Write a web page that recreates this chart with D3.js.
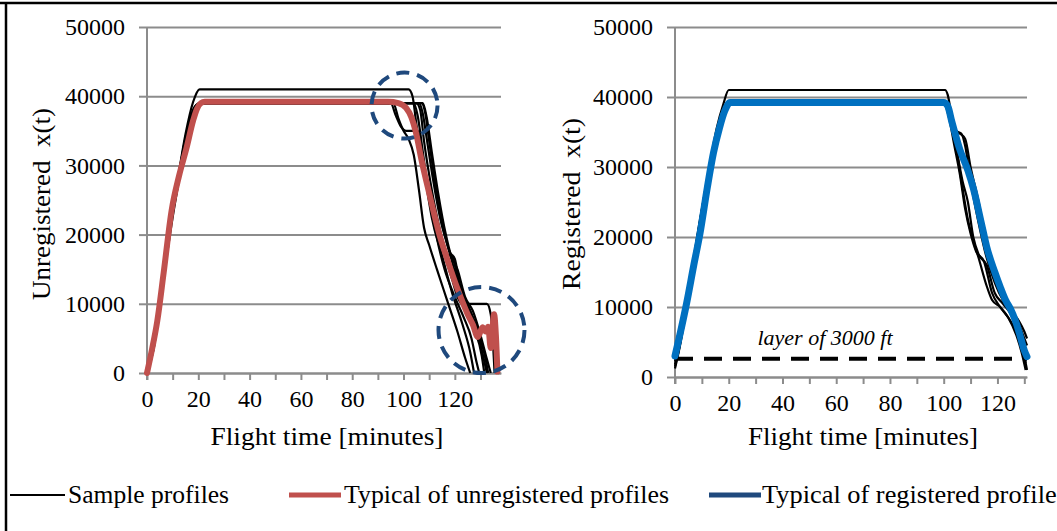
<!DOCTYPE html>
<html>
<head>
<meta charset="utf-8">
<script src="https://cdn.jsdelivr.net/npm/d3@7"></script>
<style>
  html, body { margin: 0; padding: 0; background: #fff; }
  svg { display: block; }
  svg text { font-family: 'Liberation Serif' !important; }
</style>
</head>
<body>
<div id="chart"></div>
<script>
// ---- data ----
const yTicks = [0, 10000, 20000, 30000, 40000, 50000];
const xTicks = [0, 10, 20, 30, 40, 50, 60, 70, 80, 90, 100, 110, 120, 130];
const xLabelStep = 20;

// unregistered sample profiles: [minutes, altitude]
const unregSamples = [
  [[0,0],[2,3500],[5,11000],[9,21500],[12,28000],[15,34500],[18,39200],[20.5,41000],[102,41000],[103.5,40000],[105,36000],[107,31500],[110,26000],[113,21000],[116,17000],[119,13500],[121,11000],[123,10000],[132.5,10000],[134,8500],[135.5,0]],
  [[0,0],[2,3000],[5,10500],[9,21000],[12,27500],[15,33500],[18,37500],[20,38800],[22,39000],[105,39000],[106.5,38000],[108,33500],[111,26500],[114,21000],[117,17200],[119,16800],[121,14000],[124,10500],[127,8000],[130,5000],[132,2000],[133,0]],
  [[0,0],[2.5,3500],[6,13000],[10,23000],[13,29000],[16,35000],[19,38300],[21,39000],[95,39000],[97,37200],[99,35600],[101,35000],[105.5,35000],[107,32500],[109,27000],[111,22500],[115,17000],[119,11500],[123,7000],[126,3000],[127.5,0]],
  [[0,0],[2,3200],[5.5,12000],[9.5,22000],[13,29500],[16,34800],[19,38500],[21,39000],[96,39000],[98,36800],[100,35000],[102,33800],[104,31500],[106,26500],[108,21000],[110,18500],[113,15000],[117,10500],[121,6000],[124,2200],[126,0]],
  [[0,0],[2,3200],[5,11000],[9,21200],[12,27800],[15,34000],[18,38000],[20.5,39000],[106,39000],[107.5,37500],[109,34000],[111.5,28000],[114.5,22000],[117.5,18000],[120.5,14000],[124,10000],[127.5,6500],[130.5,2500],[131.5,0]],
  [[0,0],[2.5,3300],[6,12500],[10,22500],[13,29000],[16,35000],[19,38600],[21.5,39000],[107,39000],[108.5,37500],[110,33500],[112.5,27000],[115.5,21000],[118,17500],[120,16500],[122,12500],[125.5,9500],[128.5,6500],[131,2500],[132.5,0]],
  [[0,0],[2,3000],[5,10800],[9,21000],[12,27700],[15,33800],[18,37800],[21,39000],[107.5,39000],[109,37000],[111,32000],[113.5,26000],[116.5,20000],[118.5,17000],[121,15000],[124,11000],[127,9000],[130,5500],[132.5,2000],[134,0]],
  [[0,0],[2,3400],[5.5,11500],[9.5,22000],[12.5,28500],[15.5,34500],[18.5,38400],[21,39000],[104,39000],[105.5,37200],[107.5,32000],[110,25500],[113,19500],[116,15000],[120,11000],[123.5,8000],[126.5,5000],[128.5,1500],[129.5,0]]
];

const unregTypical = [[0,0],[2,3500],[4,7500],[6.5,14500],[9.6,23500],[12.5,28500],[15.4,32500],[18,36500],[19.5,38200],[21,39000],[22.5,39200],[94,39200],[98,39000],[101,38300],[103,37000],[105,34500],[107,30800],[110,26000],[114,20000],[117,16500],[121,12200],[125,8500],[127,7000],[129,5200],[130.8,6600],[132,6000],[133,6700],[134,3600],[135.3,8500],[136,5500],[136.6,200]];

// registered sample profiles: [minutes, altitude]
const regSamples = [
  [[0,1500],[1.5,4000],[4.5,10500],[9,21500],[13,30500],[15.5,35500],[18,39000],[20,41000],[100.5,41000],[101.5,40300],[103,37000],[105,32000],[107,27000],[109,22500],[111,19500],[113,17000],[116,13000],[118,11000],[121,10000],[124,8500],[127,6000],[129,3500],[130.5,1000]],
  [[0,2500],[1.5,5000],[4.5,11000],[9,21500],[13,30000],[16,35000],[18.5,38200],[20.5,39200],[100,39200],[102,38000],[104,35500],[106,34800],[108,34000],[110,30000],[113,25000],[116,19000],[119,15000],[122,11500],[125,9800],[128,7500],[130,5500],[131,4500]],
  [[0,1800],[1.5,4200],[4.5,10800],[9,21000],[13,29800],[16,35000],[18.5,38300],[20.5,39200],[100,39200],[102,37500],[105,32000],[107,28000],[109,25000],[111,20000],[113,17500],[116,16000],[119,12000],[122,10500],[125,9000],[128,6500],[130,3000],[131,1000]],
  [[0,2200],[1.5,4700],[4.5,11200],[9,21800],[13,30200],[16,35200],[18.5,38400],[20.5,39200],[100,39200],[102.5,37500],[104.5,35000],[106.5,34800],[108,33000],[110,28000],[113,22000],[116,17000],[119,13500],[122,11000],[125,9500],[128,8000],[130,6500],[131,5500]],
  [[0,1200],[1.5,3800],[4.5,10300],[9,20800],[13,29600],[16,34800],[18.5,38100],[20.5,39200],[100,39200],[102,37000],[104,33000],[106,29000],[108,24000],[110,20500],[112,18000],[115,16500],[118,12000],[121,10000],[124,8500],[127,6500],[129,4500],[130.5,2000]]
];

const regTypical = [[0,3000],[1.5,5500],[4.3,10500],[7,16000],[9.3,20500],[12,27000],[14.3,32000],[16.5,35500],[18.5,38000],[20.5,39200],[100,39200],[101.5,38700],[103,36500],[106,32500],[109,29500],[111,27000],[114,22000],[116,18600],[119,15000],[121,12900],[123,11000],[125,9600],[127,7700],[128.5,5800],[130,3800],[131,2900]];

// dashed circles marking the distorted parts of the unregistered typical profile
const unregHighlights = [[100.4, 38650], [130.4, 6200]];

// 3000 ft layer line on registered panel
const layerAltitude = 2600;
const layerLabel = 'layer of 3000 ft';

const legendLabels = ['Sample profiles', 'Typical of unregistered profiles', 'Typical of registered profiles'];

(function(){
  const W = 1057, H = 531;
  const FONT = "'Liberation Serif'";
  const grey = '#8c8c8c';
  const red = '#c0504d';
  const blue = '#0070c0';
  const navy = '#1f497d';

  const svg = d3.select('#chart').append('svg')
    .attr('width', W)
    .attr('height', H);

  // figure frame (top and left edges visible)
  svg.append('line').attr('x1', 0).attr('x2', W).attr('y1', 3).attr('y2', 3)
    .attr('stroke', '#000').attr('stroke-width', 2.5);
  svg.append('line').attr('x1', 6).attr('x2', 6).attr('y1', 2).attr('y2', H)
    .attr('stroke', '#000').attr('stroke-width', 2.5);

  function panel(opts){
    const x = d3.scaleLinear().domain([0, opts.xMax]).range([opts.left, opts.right]);
    const y = d3.scaleLinear().domain([0, 50000]).range([opts.bottom, opts.top]);
    const g = svg.append('g');

    // gridlines
    g.append('g')
      .attr('transform', `translate(${opts.left},0)`)
      .call(d3.axisLeft(y).tickValues(yTicks).tickSize(-(opts.right - opts.left)).tickFormat(''))
      .call(s => s.select('.domain').remove())
      .call(s => s.selectAll('line').attr('stroke', grey).attr('stroke-width', 2));

    // y ticks + labels
    g.append('g')
      .attr('transform', `translate(${opts.left},0)`)
      .attr('font-family', null)
      .call(d3.axisLeft(y).tickValues(yTicks).tickSize(8).tickPadding(14).tickFormat(d3.format('d')))
      .call(s => s.select('.domain').remove())
      .call(s => s.selectAll('line').attr('stroke', grey).attr('stroke-width', 2))
      .call(s => s.selectAll('text').attr('font-size', 24).attr('fill', '#000').style('font-family', FONT));

    // x axis
    g.append('g')
      .attr('transform', `translate(0,${opts.bottom})`)
      .call(d3.axisBottom(x).tickValues(xTicks).tickSizeInner(7).tickSizeOuter(0).tickPadding(10)
        .tickFormat(d => d % xLabelStep === 0 ? d : ''))
      .call(s => s.select('.domain').attr('stroke', grey).attr('stroke-width', 2))
      .call(s => s.selectAll('line').attr('stroke', grey).attr('stroke-width', 2))
      .call(s => s.selectAll('text').attr('font-size', 24).attr('fill', '#000').style('font-family', FONT));

    // vertical axis line
    g.append('line')
      .attr('x1', opts.left).attr('x2', opts.left)
      .attr('y1', opts.top).attr('y2', opts.bottom + 7)
      .attr('stroke', grey).attr('stroke-width', 2);

    // axis titles
    g.append('text')
      .attr('x', opts.xTitleX).attr('y', 445)
      .style('font-family', FONT)
      .attr('font-size', 25)
      .attr('text-anchor', 'middle')
      .attr('textLength', opts.xTitleLen)
      .attr('lengthAdjust', 'spacingAndGlyphs')
      .text('Flight time [minutes]');

    g.append('text')
      .attr('transform', `translate(${opts.yTitleX},204) rotate(-90)`)
      .style('font-family', FONT)
      .attr('font-size', 25)
      .attr('text-anchor', 'middle')
      .attr('textLength', opts.yTitleLen)
      .attr('lengthAdjust', 'spacingAndGlyphs')
      .text(opts.yTitle);

    const line = d3.line()
      .x(d => x(d[0]))
      .y(d => y(d[1]))
      .curve(d3.curveMonotoneX);

    return {g, x, y, line};
  }

  // ---- left: unregistered ----
  const L = panel({left: 147, right: 501, top: 27, bottom: 373, xMax: 138,
    xTitleX: 327, xTitleLen: 233, yTitleX: 50, yTitleLen: 192, yTitle: 'Unregistered\u00a0\u00a0x(t)'});

  L.g.append('g').selectAll('path').data(unregSamples).enter().append('path')
    .attr('d', L.line)
    .attr('fill', 'none')
    .attr('stroke', '#000')
    .attr('stroke-width', 2.2)
    .attr('stroke-linejoin', 'round');

  L.g.append('path')
    .attr('d', L.line(unregTypical))
    .attr('fill', 'none')
    .attr('stroke', red)
    .attr('stroke-width', 6)
    .attr('stroke-linejoin', 'round')
    .attr('stroke-linecap', 'round');

  const circleR = [33, 43];
  L.g.selectAll('circle.hl').data(unregHighlights).enter().append('circle')
    .attr('class', 'hl')
    .attr('cx', d => L.x(d[0]))
    .attr('cy', d => L.y(d[1]))
    .attr('r', (d, i) => circleR[i])
    .attr('fill', 'none')
    .attr('stroke', navy)
    .attr('stroke-width', 4)
    .attr('stroke-dasharray', '13,8');

  // ---- right: registered ----
  const R = panel({left: 675, right: 1027, top: 27, bottom: 377, xMax: 131,
    xTitleX: 863, xTitleLen: 230, yTitleX: 580, yTitleLen: 172, yTitle: 'Registered\u00a0\u00a0x(t)'});

  R.g.append('g').selectAll('path').data(regSamples).enter().append('path')
    .attr('d', R.line)
    .attr('fill', 'none')
    .attr('stroke', '#000')
    .attr('stroke-width', 2.2)
    .attr('stroke-linejoin', 'round');

  R.g.append('line')
    .attr('x1', R.x(0)).attr('x2', R.x(131))
    .attr('y1', R.y(layerAltitude)).attr('y2', R.y(layerAltitude))
    .attr('stroke', '#000')
    .attr('stroke-width', 4)
    .attr('stroke-dasharray', '18,11');

  R.g.append('path')
    .attr('d', R.line(regTypical))
    .attr('fill', 'none')
    .attr('stroke', blue)
    .attr('stroke-width', 7)
    .attr('stroke-linejoin', 'round')
    .attr('stroke-linecap', 'round');

  R.g.append('text')
    .attr('x', 825).attr('y', 345)
    .style('font-family', FONT)
    .attr('font-size', 22)
    .attr('font-style', 'italic')
    .attr('text-anchor', 'middle')
    .text(layerLabel);

  // ---- legend ----
  const legendItems = [
    {x1: 10, x2: 65, tx: 68, color: '#000', w: 2, len: 161},
    {x1: 289, x2: 341, tx: 344, color: red, w: 5, len: 325},
    {x1: 709, x2: 761, tx: 762, color: navy, w: 5, len: 305}
  ];
  const legend = svg.append('g');
  legendItems.forEach((it, i) => {
    legend.append('line')
      .attr('x1', it.x1).attr('x2', it.x2)
      .attr('y1', 495).attr('y2', 495)
      .attr('stroke', it.color)
      .attr('stroke-width', it.w);
    legend.append('text')
      .attr('x', it.tx).attr('y', 503)
      .style('font-family', FONT)
      .attr('font-size', 25)
      .attr('textLength', it.len)
      .attr('lengthAdjust', 'spacingAndGlyphs')
      .text(legendLabels[i]);
  });
})();
</script>
</body>
</html>
